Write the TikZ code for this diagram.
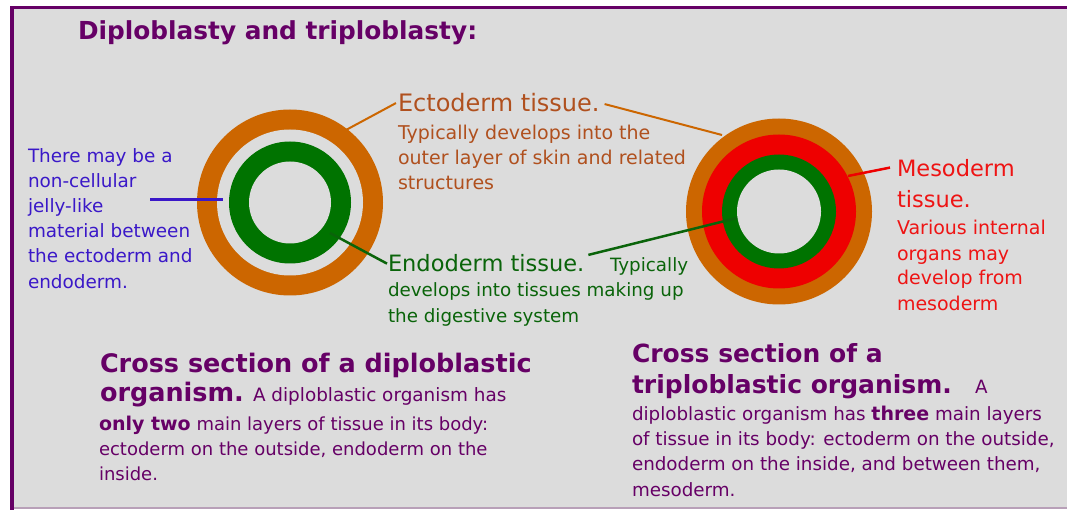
\documentclass[tikz,border=0pt]{standalone}
\usepackage{fontspec}
\setmainfont{DejaVu Sans}
\newcommand\myfs[1]{\fontsize{#1}{#1}\selectfont}
\definecolor{purp}{HTML}{660066}
\definecolor{bgray}{HTML}{DCDCDC}
\definecolor{lav}{HTML}{B8A0B8}
\definecolor{orangeR}{HTML}{CC6600}
\definecolor{greenR}{HTML}{007300}
\definecolor{redR}{HTML}{EE0000}
\definecolor{brownT}{HTML}{B0501E}
\definecolor{greenT}{HTML}{0A640A}
\definecolor{redT}{HTML}{EE1414}
\definecolor{blueT}{HTML}{3A18C8}
\begin{document}
\begin{tikzpicture}[x=1pt,y=-1pt,
  txt/.style={anchor=base west, inner sep=0pt, outer sep=0pt},
  body/.style={txt, font=\myfs{18}},
  lab/.style={txt, font=\myfs{22.5}},
  head/.style={txt, font=\bfseries\myfs{25}, text=purp},
  ectoline/.style={draw=orangeR, line width=2pt},
  endoline/.style={draw=greenT, line width=2.5pt},
  mesoline/.style={draw=redR, line width=2.5pt},
  jellyline/.style={draw=blueT, line width=3pt}]
\useasboundingbox (0,0) rectangle (1067,510);
\fill[white] (0,0) rectangle (1067,510);
\fill[bgray] (14,9) rectangle (1067,507);
\fill[lav] (14,507) rectangle (1067,508.5);
\fill[purp] (10,6) rectangle (1067,9);
\fill[purp] (10,6) rectangle (14,510);

% title
\node[txt, font=\bfseries\myfs{24.8}, text=purp] (title) at (78,40) {Diploblasty and triploblasty:};

% left (diploblastic) cross section
\coordinate (L) at (290,202.5);
\fill[orangeR] (L) circle (93pt);
\fill[bgray] (L) circle (73pt);
\fill[greenR] (L) circle (61pt);
\fill[bgray] (L) circle (41pt);

% right (triploblastic) cross section
\coordinate (R) at (779,211.5);
\fill[orangeR] (R) circle (93pt);
\fill[redR] (R) circle (77pt);
\fill[greenR] (R) circle (57pt);
\fill[bgray] (R) circle (42pt);

% connector ends on the rings
\coordinate (ectoL) at (346,130);
\coordinate (ectoR) at (722,135);
\coordinate (endoL) at (330,233);
\coordinate (endoR) at (737,218);
\coordinate (mesoR) at (848,176);
\coordinate (jellyA) at (150,200);
\coordinate (jellyB) at (223,200);

% blue note
\begin{scope}[every node/.append style={body, font=\myfs{18.4}, text=blueT}]
\node (j1) at (28,163) {There may be a};
\node (j2) at (28,188) {non-cellular};
\node (j3) at (28,213) {jelly-like};
\node (j4) at (28,238) {material between};
\node (j5) at (28,263) {the ectoderm and};
\node (j6) at (28,289) {endoderm.};
\end{scope}

% ectoderm
\node[lab, font=\myfs{24}, text=brownT] (ecto) at (398,112) {Ectoderm tissue.};
\begin{scope}[every node/.append style={body, font=\myfs{19}, text=brownT}]
\node (e1) at (398,140) {Typically develops into the};
\node (e2) at (398,165) {outer layer of skin and related};
\node (e3) at (398,190) {structures};
\end{scope}

% endoderm
\node[lab, text=greenT] (endo) at (388,272) {Endoderm tissue.};
\begin{scope}[every node/.append style={body, font=\myfs{18.3}, text=greenT}]
\node (n0) at (610,272) {Typically};
\node (n1) at (388,297) {develops into tissues making up};
\node (n2) at (388,322) {the digestive system};
\end{scope}

% mesoderm
\node[lab, text=redT] (meso) at (897,177) {Mesoderm};
\node[lab, text=redT] (meso2) at (897,208) {tissue.};
\begin{scope}[every node/.append style={body, font=\myfs{19}, text=redT}]
\node (m1) at (897,235) {Various internal};
\node (m2) at (897,261) {organs may};
\node (m3) at (897,285) {develop from};
\node (m4) at (897,311) {mesoderm};
\end{scope}

% connectors
\draw[ectoline] (ectoL) -- ([xshift=-2pt]ecto.west);
\draw[ectoline] ([xshift=5pt,yshift=-1pt]ecto.east) -- (ectoR);
\draw[endoline] (endoL) -- ([xshift=-1pt]endo.west);
\draw[endoline] ([xshift=4pt]endo.north east) -- (endoR);
\draw[mesoline] (mesoR) -- ([xshift=-7pt,yshift=1pt]meso.west);
\draw[jellyline] (jellyA) -- (jellyB);

% bottom left caption
\begin{scope}[every node/.append style={body, text=purp}]
\node[head, font=\bfseries\myfs{25.5}] (dl1) at (100,372) {Cross section of a diploblastic};
\node[head, font=\bfseries\myfs{25.5}] (dl2) at (100,401) {organism.};
\node[font=\myfs{18.4}] (dl2b) at (253,401) {A diploblastic organism has};
\node (dl3) at (99,430) {{\bfseries\myfs{19}only two} main layers of tissue in its body:};
\node (dl4) at (99,455) {ectoderm on the outside, endoderm on the};
\node (dl5) at (99,480) {inside.};
\end{scope}

% bottom right caption
\begin{scope}[every node/.append style={body, font=\myfs{18.3}, text=purp}]
\node[head] (tr1) at (632,362) {Cross section of a};
\node[head] (tr2) at (632,393) {triploblastic organism.};
\node (tr2b) at (975,393) {A};
\node (tr3) at (632,420) {diploblastic organism has {\bfseries\myfs{19}three} main layers};
\node (tr4) at (632,445) {of tissue in its body: ectoderm on the outside,};
\node (tr5) at (632,470) {endoderm on the inside, and between them,};
\node (tr6) at (632,496) {mesoderm.};
\end{scope}
\end{tikzpicture}
\end{document}
